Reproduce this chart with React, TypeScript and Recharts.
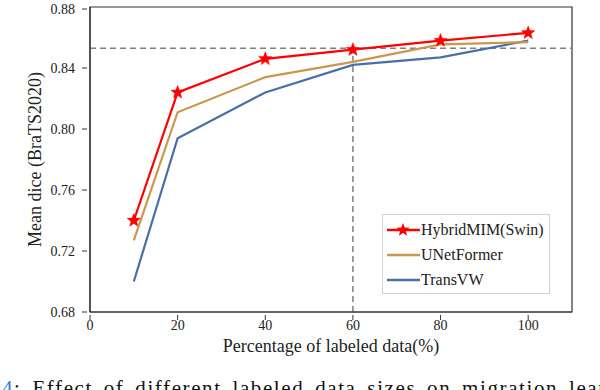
import { LineChart, Line, XAxis, YAxis, ReferenceLine, ReferenceArea, Label } from 'recharts'

const labeledPct = [10, 20, 40, 60, 80, 100]
const hybridMIM = [0.740, 0.824, 0.846, 0.852, 0.858, 0.863]
const uNetFormer = [0.727, 0.811, 0.834, 0.844, 0.8555, 0.857]
const transVW = [0.700, 0.794, 0.824, 0.842, 0.847, 0.858]

const xTicks = [0, 20, 40, 60, 80, 100]
const yTicks = [0.68, 0.72, 0.76, 0.80, 0.84, 0.88]
const refDice = 0.853
const refPct = 60

const FONT = "'Liberation Serif', 'Times New Roman', Times, serif"
const RED = '#ff0000'
const TAN = '#c8984f'
const BLUE = '#4a6ea8'

const data = labeledPct.map((p, i) => ({
  pct: p,
  hybrid: hybridMIM[i],
  unet: uNetFormer[i],
  trans: transVW[i],
}))

function starPath(cx: number, cy: number, r: number) {
  const pts: string[] = []
  for (let i = 0; i < 10; i++) {
    const rad = i % 2 === 0 ? r : r * 0.42
    const a = -Math.PI / 2 + (i * Math.PI) / 5
    pts.push(`${cx + rad * Math.cos(a)},${cy + rad * Math.sin(a)}`)
  }
  return `M${pts.join('L')}Z`
}

const Star = (props: any) => {
  const { cx, cy } = props
  if (cx == null || cy == null) return null
  return <path d={starPath(cx, cy, 7)} fill={RED} stroke={RED} strokeWidth={0.5} />
}

// ticks point inward, so draw the mark ourselves
const XTick = (props: any) => {
  const { x, y, payload } = props
  return (
    <g>
      <line x1={x} x2={x} y1={y} y2={y - 5} stroke="#333" />
      <text x={x} y={y + 10} textAnchor="middle" fontSize={14} fontFamily={FONT} fill="#222">
        {payload.value}
      </text>
    </g>
  )
}

const YTick = (props: any) => {
  const { x, y, payload } = props
  return (
    <g>
      <line x1={x} x2={x + 5} y1={y} y2={y} stroke="#333" />
      <text x={x - 7} y={y + 5} textAnchor="end" fontSize={14} fontFamily={FONT} fill="#222">
        {payload.value.toFixed(2)}
      </text>
    </g>
  )
}

const legendItems = [
  { name: 'HybridMIM(Swin)', color: RED, star: true },
  { name: 'UNetFormer', color: TAN, star: false },
  { name: 'TransVW', color: BLUE, star: false },
]

export default function App() {
  return (
    <div style={{ position: 'absolute', left: 0, top: 0, width: 600, height: 390, overflow: 'hidden', background: '#fff' }}>
      <LineChart width={600} height={390} data={data} margin={{ top: 7, right: 28, left: 30, bottom: 48 }}>
        <ReferenceArea x1={0} x2={110} y1={0.68} y2={0.88} fill="none" stroke="#333" strokeWidth={1.2} />
        <XAxis
          dataKey="pct"
          type="number"
          domain={[0, 110]}
          ticks={xTicks}
          tick={<XTick />}
          tickLine={false}
          axisLine={{ stroke: '#333', strokeWidth: 1.2 }}
          height={30}
        >
          <Label value="Percentage of labeled data(%)" position="insideBottom" offset={-10} style={{ fontFamily: FONT, fontSize: 18, fill: '#222' }} />
        </XAxis>
        <YAxis
          type="number"
          domain={[0.68, 0.88]}
          ticks={yTicks}
          tick={<YTick />}
          tickLine={false}
          axisLine={{ stroke: '#333', strokeWidth: 1.2 }}
          width={60}
        >
          <Label value="Mean dice (BraTS2020)" angle={-90} position="insideLeft" offset={5} style={{ fontFamily: FONT, fontSize: 18, fill: '#222', textAnchor: 'middle' }} />
        </YAxis>
        <ReferenceLine y={refDice} stroke="#808080" strokeWidth={1.5} strokeDasharray="6 4" />
        <ReferenceLine segment={[{ x: refPct, y: 0.68 }, { x: refPct, y: refDice }]} stroke="#808080" strokeWidth={1.5} strokeDasharray="6 4" />
        <Line dataKey="trans" stroke={BLUE} strokeWidth={2.2} dot={false} isAnimationActive={false} />
        <Line dataKey="unet" stroke={TAN} strokeWidth={2.2} dot={false} isAnimationActive={false} />
        <Line dataKey="hybrid" stroke={RED} strokeWidth={2.2} dot={<Star />} isAnimationActive={false} />
      </LineChart>

      <div
        style={{
          position: 'absolute', left: 382, top: 214, width: 166, height: 78,
          border: '1px solid #d0d0d0', background: '#fff', fontFamily: FONT, fontSize: 16, color: '#222',
        }}
      >
        {legendItems.map((it, i) => (
          <div key={it.name} style={{ position: 'absolute', left: 2, top: 5 + i * 25, height: 20, display: 'flex', alignItems: 'center' }}>
            <svg width={36} height={20}>
              <line x1={2} x2={35} y1={10} y2={10} stroke={it.color} strokeWidth={2.4} />
              {it.star && <path d={starPath(18, 10, 7)} fill={RED} />}
            </svg>
            <span>{it.name}</span>
          </div>
        ))}
      </div>

      <div style={{ position: 'absolute', left: 2, top: 376, whiteSpace: 'nowrap', fontFamily: FONT, fontSize: 21, lineHeight: '24px', color: '#111', letterSpacing: 1.6, wordSpacing: 4 }}>
        <span style={{ color: '#2a7fd4' }}>4</span>: Effect of different labeled data sizes on migration learning
      </div>
    </div>
  )
}
